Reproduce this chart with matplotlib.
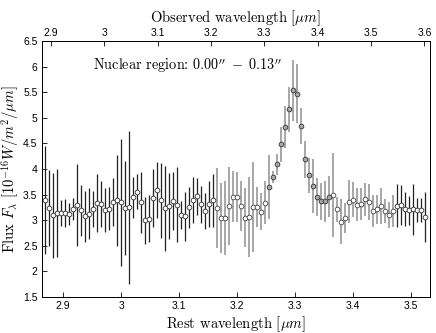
import matplotlib
matplotlib.use("Agg")
import matplotlib.pyplot as plt
import numpy as np

plt.rcParams['mathtext.fontset'] = 'cm'
plt.rcParams['font.family'] = ['Liberation Sans', 'DejaVu Sans']
plt.rcParams['axes.formatter.use_mathtext'] = True

# rest wavelength grid [micron]
wave = [2.8685, 2.8754, 2.8823, 2.8892, 2.8961, 2.9030, 2.9099, 2.9168,
        2.9237, 2.9306, 2.9375, 2.9444, 2.9513, 2.9582, 2.9651, 2.9720,
        2.9789, 2.9857, 2.9926, 2.9995, 3.0064, 3.0133, 3.0202, 3.0271,
        3.0340, 3.0409, 3.0478, 3.0547, 3.0616, 3.0685, 3.0754, 3.0823,
        3.0892, 3.0961, 3.1030, 3.1099, 3.1168, 3.1237, 3.1306, 3.1375,
        3.1444, 3.1513, 3.1582, 3.1651, 3.1720, 3.1789, 3.1858, 3.1927,
        3.1996, 3.2065, 3.2134, 3.2203, 3.2272, 3.2341, 3.2410, 3.2478,
        3.2547, 3.2616, 3.2685, 3.2754, 3.2823, 3.2892, 3.2961, 3.3030,
        3.3099, 3.3168, 3.3237, 3.3306, 3.3375, 3.3444, 3.3513, 3.3582,
        3.3651, 3.3720, 3.3789, 3.3858, 3.3927, 3.3996, 3.4065, 3.4134,
        3.4203, 3.4272, 3.4341, 3.4410, 3.4479, 3.4548, 3.4617, 3.4686,
        3.4755, 3.4824, 3.4893, 3.4962, 3.5031, 3.5099, 3.5168, 3.5237]

flux = [3.40, 3.24, 3.10, 3.14, 3.14, 3.14, 3.12, 3.22, 3.30, 3.19, 3.08, 3.13,
        3.22, 3.34, 3.32, 3.20, 3.22, 3.35, 3.39, 3.35, 3.24, 3.25, 3.45, 3.56,
        3.35, 3.00, 3.03, 3.43, 3.59, 3.39, 3.23, 3.28, 3.37, 3.30, 3.10, 3.08,
        3.25, 3.39, 3.465, 3.31, 3.18, 3.31, 3.39, 3.24, 3.045, 3.045, 3.28, 3.46,
        3.45, 3.27, 3.05, 3.06, 3.25, 3.26, 3.17, 3.34, 3.65, 3.84, 4.09, 4.48,
        4.82, 5.17, 5.535, 5.47, 4.84, 4.19, 3.88, 3.67, 3.46, 3.37, 3.37, 3.46,
        3.49, 3.21, 2.97, 3.045, 3.36, 3.40, 3.30, 3.31, 3.41, 3.36, 3.18, 3.21,
        3.28, 3.18, 3.10, 3.18, 3.28, 3.29, 3.22, 3.19, 3.21, 3.20, 3.20, 3.06]

err = [1.05, 0.74, 0.83, 0.86, 0.25, 0.27, 0.22, 0.21, 0.80, 0.50, 0.50, 0.50,
       0.35, 0.57, 0.45, 0.43, 0.42, 0.47, 0.89, 1.24, 0.92, 1.50, 0.40, 0.35,
       0.59, 0.46, 0.46, 0.57, 0.55, 0.73, 0.83, 0.65, 0.57, 0.73, 0.28, 0.48,
       0.40, 0.45, 0.36, 0.36, 0.35, 0.45, 0.52, 0.78, 0.68, 0.73, 0.76, 0.50,
       0.49, 0.49, 0.58, 0.78, 0.88, 0.39, 0.36, 0.42, 0.63, 0.12, 0.20, 0.34,
       0.41, 0.44, 0.60, 0.58, 0.36, 0.36, 0.34, 0.53, 0.37, 0.36, 0.40, 0.40,
       0.82, 0.25, 0.44, 0.29, 0.42, 0.34, 0.32, 0.31, 0.32, 0.35, 0.31, 0.29,
       0.35, 0.24, 0.26, 0.31, 0.42, 0.39, 0.34, 0.29, 0.49, 0.23, 0.23, 0.49]

# points inside the feature window drawn in grey
grey_from, grey_to = 43, 87
peak_from, peak_to = 56, 71

wave = np.array(wave)
flux = np.array(flux)
err = np.array(err)
idx = np.arange(len(wave))
grey = (idx >= grey_from) & (idx <= grey_to)
peak = (idx >= peak_from) & (idx <= peak_to)

cm = dict(family='cmr10')

fig = plt.figure(figsize=(4.36, 3.33), dpi=100)
ax = fig.add_axes([0.0956, 0.108, 0.89, 0.769])

ax.errorbar(wave[~grey], flux[~grey], yerr=err[~grey], fmt='o', ms=3.4,
            mfc='white', mec='#333333', mew=0.6, ecolor='#222222',
            elinewidth=0.9, capsize=0)
ax.errorbar(wave[grey & ~peak], flux[grey & ~peak], yerr=err[grey & ~peak],
            fmt='o', ms=3.4, mfc='white', mec='#444444', mew=0.6,
            ecolor='#8f8f8f', elinewidth=1.1, capsize=0)
ax.errorbar(wave[peak], flux[peak], yerr=err[peak], fmt='o', ms=3.4,
            mfc='#a8a8a8', mec='#333333', mew=0.6, ecolor='#8f8f8f',
            elinewidth=1.1, capsize=0)

ax.set_xlim(2.8628, 3.5322)
ax.set_ylim(1.5, 6.5)
ax.set_xticks([2.9, 3.0, 3.1, 3.2, 3.3, 3.4, 3.5])
ax.set_xticklabels(['2.9', '3', '3.1', '3.2', '3.3', '3.4', '3.5'])
ax.set_yticks([1.5, 2, 2.5, 3, 3.5, 4, 4.5, 5, 5.5, 6, 6.5])
ax.set_yticklabels(['1.5', '2', '2.5', '3', '3.5', '4', '4.5', '5', '5.5', '6', '6.5'])
ax.tick_params(direction='in', length=3.5, width=0.6, labelsize=7.5, pad=3)

ax.set_xlabel(r'Rest wavelength [$\mu m$]', fontsize=10.5, labelpad=2, **cm)
ax.set_ylabel(r'Flux $F_\lambda$ [$10^{-16} W/m^2/\mu m$]', fontsize=10.5, **cm)
ax.yaxis.set_label_coords(-0.053, 0.5)

ax.text(2.952, 6.01, r"Nuclear region: $0.00''\;-\;0.13''$",
        fontsize=10.3, va='center', ha='left', **cm)

ax2 = ax.twiny()
ax2.set_xlim(2.883, 3.610)
ax2.set_xticks([2.9, 3.0, 3.1, 3.2, 3.3, 3.4, 3.5, 3.6])
ax2.set_xticklabels(['2.9', '3', '3.1', '3.2', '3.3', '3.4', '3.5', '3.6'])
ax2.tick_params(direction='in', length=3.5, width=0.6, labelsize=7.5, pad=2)
ax2.set_xlabel(r'Observed wavelength [$\mu m$]', fontsize=10.5, labelpad=4, **cm)

for a in (ax, ax2):
    for s in a.spines.values():
        s.set_linewidth(0.7)

fig.savefig('out.png', dpi=100)
